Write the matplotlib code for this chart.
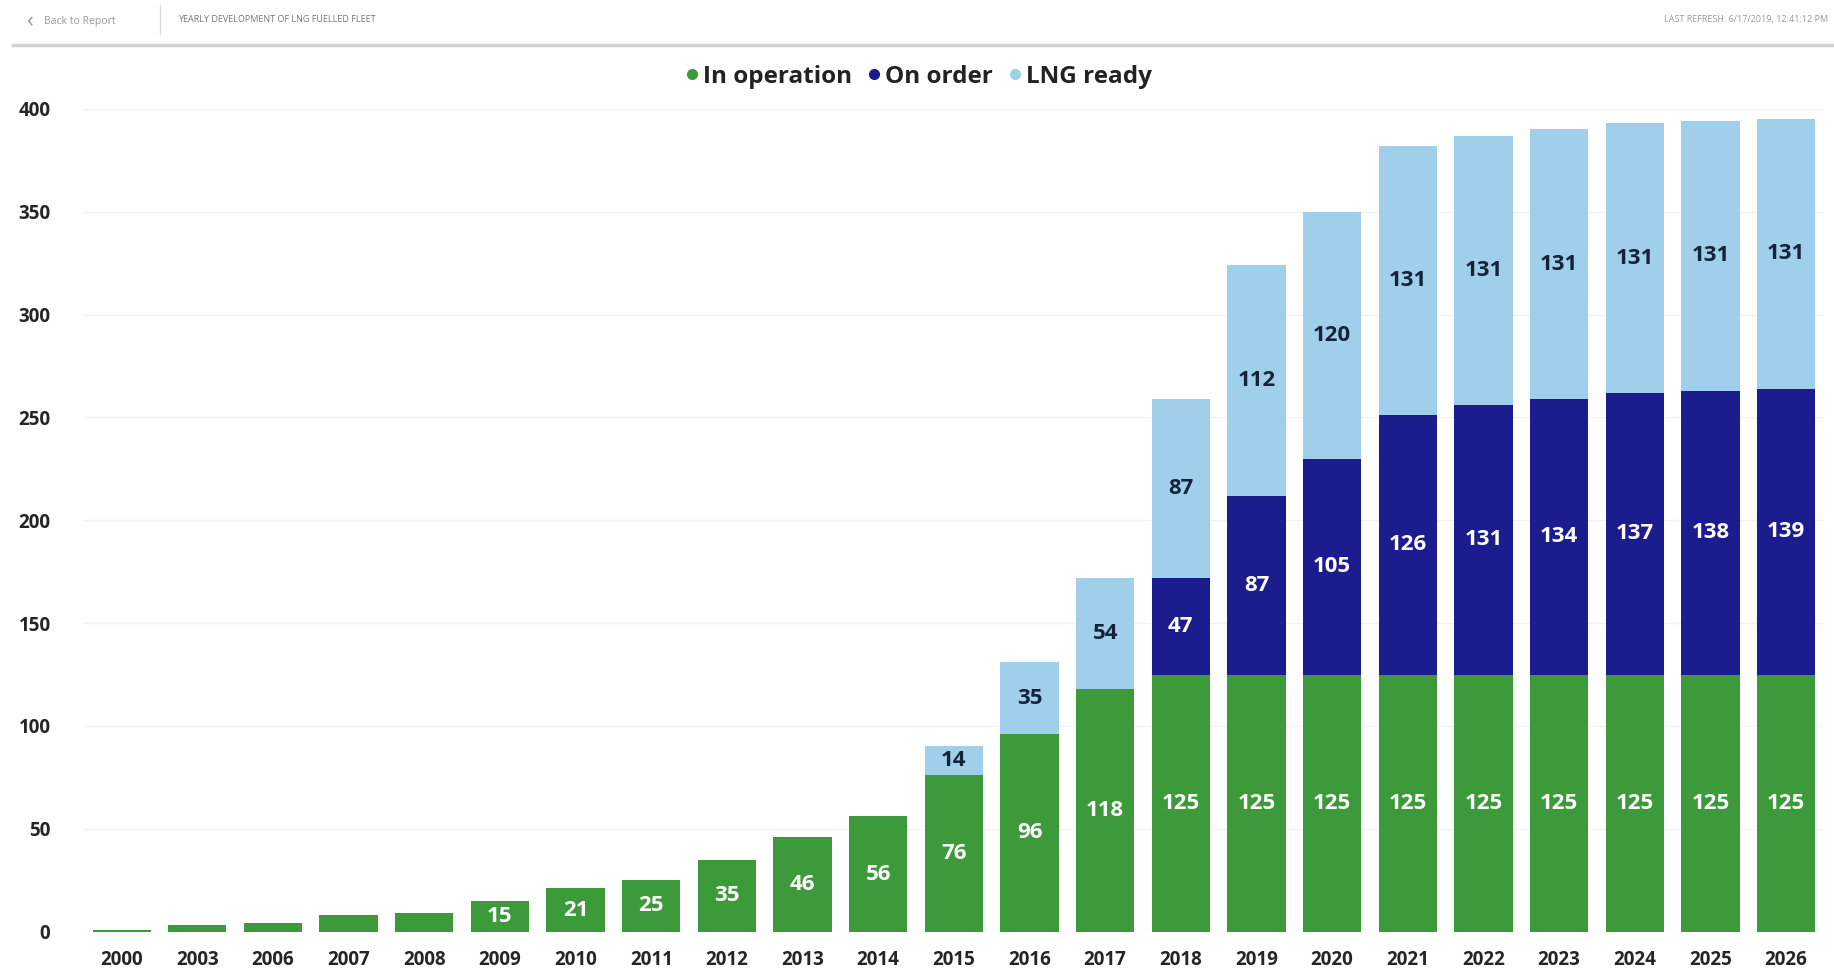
import numpy as np
import matplotlib.pyplot as plt
from matplotlib.lines import Line2D

# =========================
# Données
# =========================

years = ["2000", "2003", "2006", "2007", "2008", "2009", "2010", "2011", "2012",
         "2013", "2014", "2015", "2016", "2017", "2018", "2019", "2020", "2021",
         "2022", "2023", "2024", "2025", "2026"]
in_operation = [1, 3, 4, 8, 9, 15, 21, 25, 35, 46, 56, 76, 96, 118, 125, 125,
                125, 125, 125, 125, 125, 125, 125]
on_order = [0, 0, 0, 0, 0, 0, 0, 0, 0, 0, 0, 0, 0, 0, 47, 87, 105, 126, 131,
            134, 137, 138, 139]
lng_ready = [0, 0, 0, 0, 0, 0, 0, 0, 0, 0, 0, 14, 35, 54, 87, 112, 120, 131,
             131, 131, 131, 131, 131]
y_ticks = [0, 50, 100, 150, 200, 250, 300, 350, 400]

# =========================
# Style
# =========================

green = "#3d9a3b"
navy = "#1b1d8e"
light = "#a0cfec"
font = ["Open Sans", "DejaVu Sans"]
plt.rcParams["font.family"] = font

fig = plt.figure(figsize=(18.34, 9.69), dpi=100)
ax = fig.add_axes([0.0457, 0.0386, 0.9488, 0.849])

x = np.arange(len(years))
w = 0.77
op = np.array(in_operation)
oo = np.array(on_order)
lr = np.array(lng_ready)

ax.bar(x, op, w, color=green, zorder=2)
ax.bar(x, oo, w, bottom=op, color=navy, zorder=2)
ax.bar(x, lr, w, bottom=op + oo, color=light, zorder=2)

# étiquettes des segments
def label(vals, bottoms, color):
    for xi, v, b in zip(x, vals, bottoms):
        if v >= 14:
            ax.text(xi, b + v / 2, str(v), ha="center", va="center",
                    color=color, fontsize=16, fontweight="bold", zorder=3)

label(op, np.zeros_like(op), "white")
label(oo, op, "white")
label(lr, op + oo, "#15233a")

ax.set_xlim(-0.5, len(years) - 0.5)
ax.set_ylim(0, 400)
ax.set_xticks(x)
ax.set_xticklabels(years)
ax.set_yticks(y_ticks)
ax.tick_params(axis="x", length=0, pad=13, labelsize=13.5, labelcolor="#252525")
ax.tick_params(axis="y", length=0, pad=24, labelsize=13.5, labelcolor="#252525")
for t in ax.get_xticklabels() + ax.get_yticklabels():
    t.set_fontweight("bold")
ax.grid(axis="y", color="#f2f2f2", linewidth=1, zorder=0)
for s in ax.spines.values():
    s.set_visible(False)

# légende
handles = [Line2D([], [], marker="o", ls="", color=c, markersize=7)
           for c in (green, navy, light)]
fig.legend(handles, ["In operation", "On order", "LNG ready"], loc="center",
           bbox_to_anchor=(0.5, 0.921), ncol=3, frameon=False,
           prop={"size": 17.5, "weight": "bold"}, handletextpad=0.05,
           columnspacing=0.5, handlelength=0.8, labelcolor="#222222")

# en-tête
fig.add_artist(Line2D([0.007, 1.0], [0.954, 0.954], color="#d0d0d0", lw=2.5))
fig.add_artist(Line2D([0.0875, 0.0875], [0.965, 0.995], color="#dddddd", lw=1))
fig.text(0.014, 0.978, "‹", fontsize=16, color="#999999", va="center")
fig.text(0.024, 0.978, "Back to Report", fontsize=7.5, color="#999999", va="center")
fig.text(0.097, 0.980, "YEARLY DEVELOPMENT OF LNG FUELLED FLEET", fontsize=6.5,
         color="#777777", va="center")
fig.text(0.997, 0.980, "LAST REFRESH: 6/17/2019, 12:41:12 PM", fontsize=6.5,
         color="#999999", va="center", ha="right")

fig.savefig("out.png", dpi=100, facecolor="white")
